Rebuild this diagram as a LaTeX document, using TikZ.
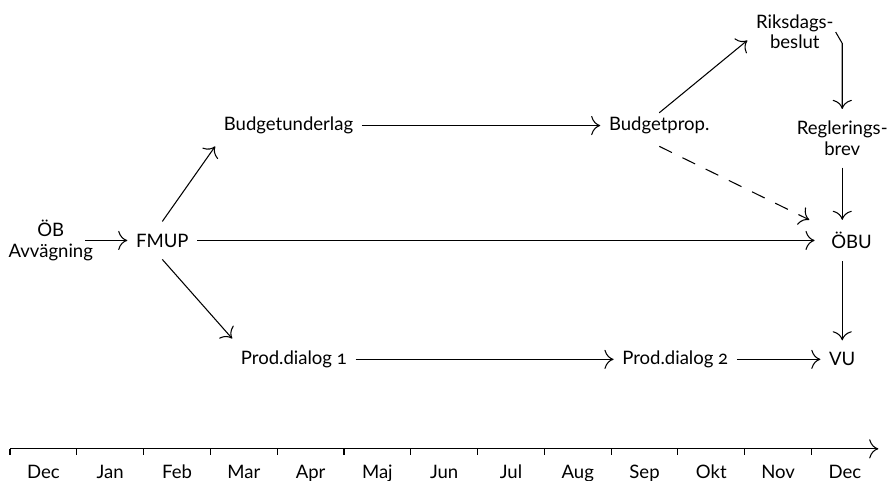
\documentclass[tikz,border=0pt]{standalone}
\usepackage{fontspec}
\setmainfont[Numbers=OldStyle]{Lato}
\usetikzlibrary{arrows.meta}
\begin{document}
\begin{tikzpicture}[>={To[scale=1.5]}, line width=0.45pt,
        every node/.style={font=\fontsize{7.9}{8.6}\selectfont},
        lbl/.style={inner xsep=3.5pt, inner ysep=5pt, align=center},
        month/.style={anchor=base, inner sep=0pt}]
        \useasboundingbox (-0.15,-0.48) rectangle (13.13,6.72);

        \node[lbl] (obav) at (0.61,3.12) {ÖB\\Avvägning};
        \node[lbl] (fmup) at (2.28,3.12) {FMUP};
        \node[lbl] (bunder) at (4.17,4.84) {Budgetunderlag};
        \node[lbl] (bprop) at (9.72,4.84) {Budgetprop.};
        \node[lbl] (riks) at (11.75,6.24) {Riksdags-\\beslut};
        \node[lbl] (regl) at (12.46,4.65) {Reglerings-\\brev};
        \node[lbl] (obu) at (12.60,3.12) {ÖBU};
        \node[lbl] (pd1) at (4.25,1.34) {Prod.dialog 1};
        \node[lbl] (pd2) at (9.96,1.34) {Prod.dialog 2};
        \node[lbl] (vu) at (12.46,1.34) {VU};

        \draw[->] ([xshift=-0.25cm]obav.east) -- (fmup);
        \draw[->] (fmup.north) -- (bunder.south west);
        \draw[->] (fmup.south) -- (pd1.north west);
        \draw[->] (fmup) -- ([xshift=-0.12cm]obu.west);
        \draw[->] (bunder) -- (bprop);
        \draw[->] ([yshift=-0.12cm]bprop.north) -- (riks.190);
        \draw[->, dashed, dash pattern=on 6pt off 5pt] (bprop.south) -- ([xshift=-0.2cm]obu.north west);
        \path (riks.east -| regl.north) ++(0,-0.17) coordinate (knee);
        \draw[->] ([xshift=-0.1cm]riks.east) -- (knee) -- (regl.north);
        \draw[->] (regl.south) -- (regl.south |- obu.north);
        \draw[->] (obu.south -| vu.north) -- (vu.north);
        \draw[->] (pd1) -- (pd2);
        \draw[->] (pd2) -- (vu);

        \draw[->] (0,0) -- (13,0);
        \draw (0,0) -- (0,-0.09);
        \draw (1,0) -- (1,-0.09);
        \draw (2,0) -- (2,-0.09);
        \draw (3,0) -- (3,-0.09);
        \draw (4,0) -- (4,-0.09);
        \draw (5,0) -- (5,-0.09);
        \draw (6,0) -- (6,-0.09);
        \draw (7,0) -- (7,-0.09);
        \draw (8,0) -- (8,-0.09);
        \draw (9,0) -- (9,-0.09);
        \draw (10,0) -- (10,-0.09);
        \draw (11,0) -- (11,-0.09);
        \draw (12,0) -- (12,-0.09);

        \node[month] (m0) at (0.5,-0.45) {Dec};
        \node[month] (m1) at (1.5,-0.45) {Jan};
        \node[month] (m2) at (2.5,-0.45) {Feb};
        \node[month] (m3) at (3.5,-0.45) {Mar};
        \node[month] (m4) at (4.5,-0.45) {Apr};
        \node[month] (m5) at (5.5,-0.45) {Maj};
        \node[month] (m6) at (6.5,-0.45) {Jun};
        \node[month] (m7) at (7.5,-0.45) {Jul};
        \node[month] (m8) at (8.5,-0.45) {Aug};
        \node[month] (m9) at (9.5,-0.45) {Sep};
        \node[month] (m10) at (10.5,-0.45) {Okt};
        \node[month] (m11) at (11.5,-0.45) {Nov};
        \node[month] (m12) at (12.5,-0.45) {Dec};
    \end{tikzpicture}
\end{document}
